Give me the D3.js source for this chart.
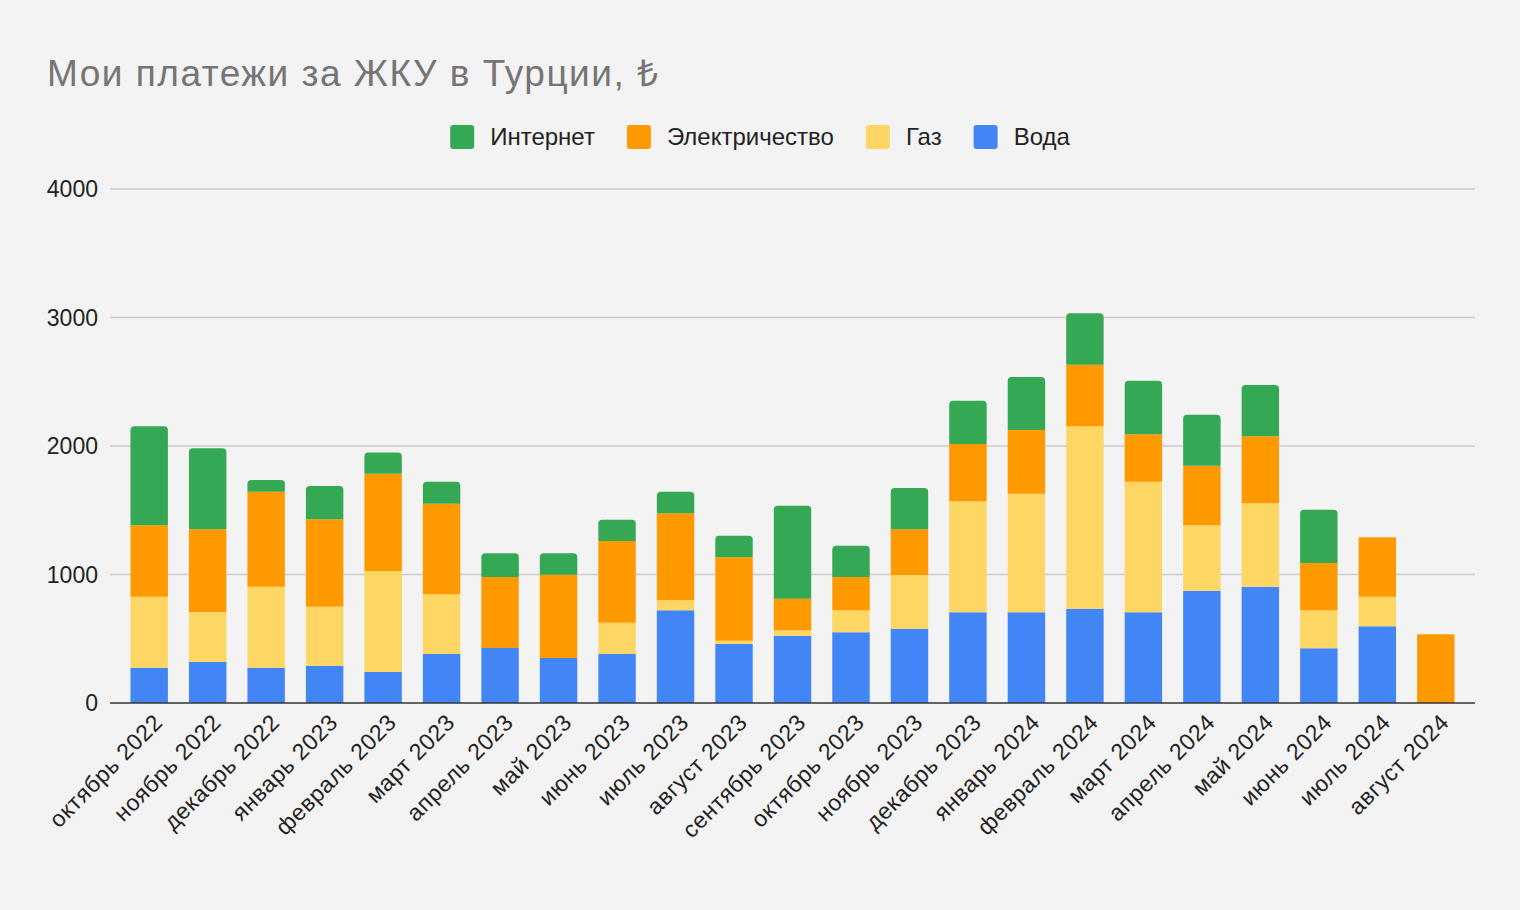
<!DOCTYPE html>
<html>
<head>
<meta charset="utf-8">
<script src="https://cdn.jsdelivr.net/npm/d3@7"></script>
<style>
  html, body { margin: 0; padding: 0; background: #f3f3f3; }
  svg { display: block; }
  text { font-family: "Liberation Sans", Arial, sans-serif; }
</style>
</head>
<body>
<svg id="chart" width="1520" height="910"></svg>
<script>
const title = "Мои платежи за ЖКУ в Турции, ₺";
const categories = ["октябрь 2022","ноябрь 2022","декабрь 2022","январь 2023","февраль 2023","март 2023","апрель 2023","май 2023","июнь 2023","июль 2023","август 2023","сентябрь 2023","октябрь 2023","ноябрь 2023","декабрь 2023","январь 2024","февраль 2024","март 2024","апрель 2024","май 2024","июнь 2024","июль 2024","август 2024"];
const water       = [275,319,275,290,241,381,428,350,381,721,459,521,550,578,706,706,734,706,874,905,426,597,0];
const gas         = [552,387,630,459,786,465,0,0,244,78,26,45,171,418,864,923,1419,1016,509,649,295,230,0];
const electricity = [556,646,739,681,758,705,553,648,636,677,649,246,260,356,446,496,480,369,464,521,368,462,535];
const internet    = [770,630,91,259,165,171,184,167,165,168,168,723,243,321,337,412,400,417,396,400,415,0,0];
const seriesNames = ["Вода","Газ","Электричество","Интернет"];
const seriesColors = ["#4285f4","#fdd663","#ff9900","#34a853"];
const yTicks = [0,1000,2000,3000,4000];

const svg = d3.select("#chart");
const W = 1520, H = 910;
const margin = {left:110, right:45, top:189, bottom:207};

svg.append("rect").attr("width", W).attr("height", H).attr("fill", "#f3f3f3");

const x = d3.scaleBand().domain(categories).range([margin.left, W - margin.right])
  .paddingInner(0.36).paddingOuter(0.35);
const y = d3.scaleLinear().domain([0, 4000]).range([H - margin.bottom, margin.top]);

// title
svg.append("text").attr("x", 47).attr("y", 86).attr("font-size", 37)
  .attr("letter-spacing", 1.5).attr("fill", "#757575").text(title);

// gridlines
const g = svg.append("g");
g.selectAll("line.grid").data(yTicks.filter(d => d > 0)).join("line")
  .attr("x1", margin.left).attr("x2", W - margin.right)
  .attr("y1", d => y(d)).attr("y2", d => y(d))
  .attr("stroke", "#cccccc").attr("stroke-width", 1.5);

// y labels
g.selectAll("text.ylab").data(yTicks).join("text")
  .attr("x", 98).attr("y", d => y(d)).attr("dy", "0.36em")
  .attr("text-anchor", "end").attr("font-size", 23).attr("fill", "#222")
  .text(d => d);

// stacked data
const rows = categories.map((c, i) => ({cat: c, "Вода": water[i], "Газ": gas[i], "Электричество": electricity[i], "Интернет": internet[i]}));
const stack = d3.stack().keys(seriesNames)(rows);

const r = 4;
function segPath(x0, w, y0, y1, rounded) {
  if (!rounded || y0 - y1 < r) return `M${x0},${y0}V${y1}H${x0+w}V${y0}Z`;
  return `M${x0},${y0}V${y1+r}Q${x0},${y1} ${x0+r},${y1}H${x0+w-r}Q${x0+w},${y1} ${x0+w},${y1+r}V${y0}Z`;
}

stack.forEach((layer, si) => {
  svg.append("g").selectAll("path").data(layer.filter(d => d[1] - d[0] > 0)).join("path")
    .attr("fill", seriesColors[si])
    .attr("d", d => segPath(x(d.data.cat), x.bandwidth(), y(d[0]), y(d[1]), si === 3));
});

// baseline
svg.append("line").attr("x1", margin.left).attr("x2", W - margin.right)
  .attr("y1", y(0)).attr("y2", y(0)).attr("stroke", "#333").attr("stroke-width", 1.5);

// x labels
svg.append("g").selectAll("text").data(categories).join("text")
  .attr("transform", d => `translate(${x(d) + x.bandwidth()/2 + 9},${y(0) + 15}) rotate(-45)`)
  .attr("text-anchor", "end").attr("dy", "0.35em")
  .attr("font-size", 23).attr("letter-spacing", 0.6).attr("fill", "#222").text(d => d);

// legend
const legendOrder = [3,2,1,0];
const lg = svg.append("g");
let lx = 0;
legendOrder.forEach(si => {
  const it = lg.append("g");
  it.append("rect").attr("x", 0).attr("y", -12).attr("width", 24).attr("height", 24)
    .attr("rx", 3).attr("fill", seriesColors[si]);
  const t = it.append("text").attr("x", 40).attr("y", 0).attr("dy", "0.35em")
    .attr("font-size", 24).attr("fill", "#222").text(seriesNames[si]);
  const tw = t.node().getComputedTextLength();
  it.attr("transform", `translate(${lx},0)`);
  lx += 40 + tw + 32;
});
const totalW = lx - 32;
lg.attr("transform", `translate(${760 - totalW/2},137)`);
</script>
</body>
</html>
